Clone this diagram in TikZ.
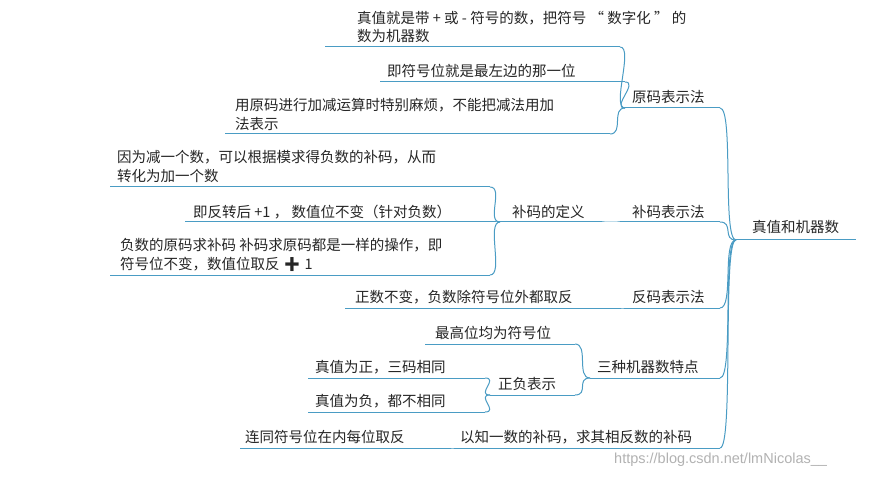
\documentclass[tikz,border=0pt]{standalone}
\usepackage{fontspec}
\setmainfont{Noto Sans CJK SC}
\newfontfamily\emofont{Noto Emoji}
\definecolor{br}{HTML}{4A9CC4}
\begin{document}
\begin{tikzpicture}[x=1pt,y=-1pt,
  txt/.style={anchor=west,inner sep=0pt,font=\fontsize{14.5}{16}\selectfont,text=black!85},
  ul/.style={draw=br,line width=1pt},
  cn/.style={draw=br,line width=1pt}]
\useasboundingbox[fill=white] (0,0) rectangle (880,478);
% texts
\node[txt] (a1) at (357,18) {真值就是带 + 或 - 符号的数，把符号 “ 数字化 ” 的};
\node[txt] (a1b) at (357,36) {数为机器数};
\node[txt] (a2) at (387,71) {即符号位就是最左边的那一位};
\node[txt] (a) at (632,97) {原码表示法};
\node[txt] (a3) at (235,105) {用原码进行加减运算时特别麻烦，不能把减法用加};
\node[txt] (a3b) at (235,124) {法表示};
\node[txt] (b1) at (117,157) {因为减一个数，可以根据模求得负数的补码，从而};
\node[txt] (b1b) at (117,176) {转化为加一个数};
\node[txt] (b2) at (193,212) {即反转后 +1 ， 数值位不变（针对负数）};
\node[txt] (bd) at (512,212) {补码的定义};
\node[txt] (b) at (632,212) {补码表示法};
\node[txt] (b3) at (120,245) {负数的原码求补码 补码求原码都是一样的操作，即};
\node[txt] (b3b) at (120,264) {符号位不变，数值位取反 {\emofont\char"2795} 1};
\node[txt] (c1) at (355,297) {正数不变，负数除符号位外都取反};
\node[txt] (c) at (632,297) {反码表示法};
\node[txt] (d1) at (435,333) {最高位均为符号位};
\node[txt] (d) at (597,367) {三种机器数特点};
\node[txt] (d2) at (315,367) {真值为正，三码相同};
\node[txt] (dz) at (498,384) {正负表示};
\node[txt] (d3) at (315,401) {真值为负，都不相同};
\node[txt] (e1) at (245,437) {连同符号位在内每位取反};
\node[txt] (e) at (460,437) {以知一数的补码，求其相反数的补码};
\node[txt] (r) at (752,227) {真值和机器数};
\node[anchor=west,inner sep=0pt,text=black!30,font=\fontsize{14.5}{16}\selectfont\fontspec{Liberation Sans}] (w) at (614,460) {https://blog.csdn.net/lmNicolas\_\_};
% underlines
\foreach \n/\xa/\xb/\y in {a1/325/620/47, a2/380/625/82, a/625/720/108, a3/225/610/134,
  b1/110/490/187, b2/185/495/222, bd/500/600/222, b/622/720/222, b3/110/490/275,
  c1/345/620/308, c/625/720/308, d1/425/575/344, d/590/720/378, d2/308/485/378,
  dz/490/575/395, d3/308/485/412, e1/240/450/448, e/455/720/448, r/736/856/240}{
  \coordinate (\n L) at (\xa,\y); \coordinate (\n R) at (\xb,\y);
  \draw[ul] (\n L) -- (\n R);}
% connectors
\foreach \p/\c in {r/a, r/b, r/c, r/d, r/e, a/a1, a/a2, a/a3, b/bd, bd/b1, bd/b2, bd/b3,
  c/c1, d/d1, d/dz, dz/d2, dz/d3, e/e1}{
  \draw[cn] (\p L) .. controls +(-14,0) and +(14,0) .. (\c R);}
\end{tikzpicture}
\end{document}
